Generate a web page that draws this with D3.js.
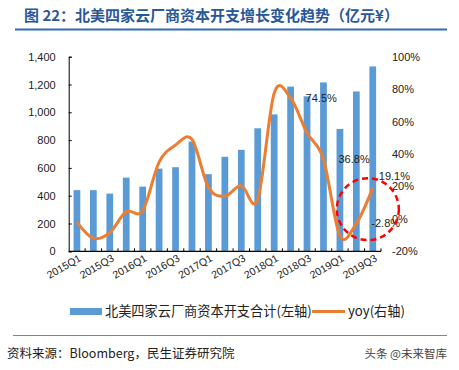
<!DOCTYPE html>
<html>
<head>
<meta charset="utf-8">
<script src="https://cdn.jsdelivr.net/npm/d3@7/dist/d3.min.js"></script>
<style>
body { margin: 0; background: #fff; }
text { font-family: "Liberation Sans", Arial, sans-serif; }
.cjk { font-family: "Noto Sans CJK SC", sans-serif; }
</style>
</head>
<body>
<script>
//data
var quarters = ["2015Q1", "2015Q2", "2015Q3", "2015Q4", "2016Q1", "2016Q2", "2016Q3", "2016Q4",
    "2017Q1", "2017Q2", "2017Q3", "2017Q4", "2018Q1", "2018Q2", "2018Q3", "2018Q4",
    "2019Q1", "2019Q2", "2019Q3"];
var capex = [440, 440, 415, 530, 465, 595, 605, 790, 555, 680, 730, 885, 985, 1185, 1115, 1215, 880, 1150, 1330];
var yoy = [-2, -12, -8.5, 4.5, 5, 35, 45.5, 49, 19.5, 14, 20.5, 12, 77.5, 74.5, 53, 36.8, -10.5, -2.8, 19.1];
var leftTicks = [0, 200, 400, 600, 800, 1000, 1200, 1400];
var rightTicks = [-20, 0, 20, 40, 60, 80, 100];
var labelQuarters = ["2018Q2", "2018Q4", "2019Q2", "2019Q3"];
var seriesNames = ["北美四家云厂商资本开支合计(左轴)", "yoy(右轴)"];
var title = "图 22：北美四家云厂商资本开支增长变化趋势（亿元¥）";
var source = "资料来源：Bloomberg，民生证券研究院";
var mark = "头条 @未来智库";

var width = 459, height = 370;
var svg = d3.select("body").append("svg").attr("width", width).attr("height", height);

//title and rules
svg.append("text").attr("class", "cjk").attr("x", 24).attr("y", 21)
    .attr("font-size", 15).attr("font-weight", "bold").attr("fill", "#2A5796")
    .text(title);
svg.append("line").attr("x1", 15).attr("x2", 447).attr("y1", 29.5).attr("y2", 29.5)
    .attr("stroke", "#2E6DB4").attr("stroke-width", 2);
svg.append("line").attr("x1", 13).attr("x2", 447).attr("y1", 335.5).attr("y2", 335.5)
    .attr("stroke", "#5B8CC8").attr("stroke-width", 1);
svg.append("text").attr("class", "cjk").attr("x", 7).attr("y", 358)
    .attr("font-size", 12.5).attr("fill", "#222").text(source);
svg.append("text").attr("class", "cjk").attr("x", 447).attr("y", 358)
    .attr("text-anchor", "end").attr("font-size", 11.5).attr("fill", "#444").text(mark);

//scales
var plotL = 68.7, plotR = 381, plotT = 56.7, plotB = 251.3;
var x = d3.scaleBand().domain(quarters).range([plotL, plotR]).paddingInner(0.59).paddingOuter(0.295);
var y = d3.scaleLinear().domain([0, 1400]).range([plotB, plotT]);
var yR = d3.scaleLinear().domain([-20, 100]).range([plotB, plotT]);
var step = x.step();
function cx(q){ return x(q) + x.bandwidth() / 2; }

//bars
svg.selectAll("rect.bar").data(capex).enter().append("rect")
    .attr("class", "bar")
    .attr("x", function(d, i){ return x(quarters[i]); })
    .attr("width", x.bandwidth())
    .attr("y", function(d){ return y(d); })
    .attr("height", function(d){ return y(0) - y(d); })
    .attr("fill", "#5B9BD5");

//left axis
var yA = d3.axisLeft(y).tickValues(leftTicks).tickSize(-3).tickPadding(13)
    .tickFormat(d3.format(","));
var gy = svg.append("g").attr("transform", "translate(" + plotL + ",0)").call(yA);
gy.select(".domain").attr("stroke", "#000");
gy.selectAll(".tick line").attr("stroke", "#000");
gy.selectAll("text").attr("font-size", 11).attr("fill", "#222")
    .attr("font-family", "Liberation Sans, Arial, sans-serif");

//right axis, labels only
var yB = d3.axisRight(yR).tickValues(rightTicks).tickSize(0).tickPadding(11)
    .tickFormat(function(d){ return d + "%"; });
var gr = svg.append("g").attr("transform", "translate(" + plotR + ",0)").call(yB);
gr.select(".domain").remove();
gr.selectAll("text").attr("font-size", 11).attr("fill", "#222")
    .attr("font-family", "Liberation Sans, Arial, sans-serif");

//x axis line, ticks between categories
svg.append("line").attr("x1", plotL).attr("x2", plotR).attr("y1", plotB).attr("y2", plotB)
    .attr("stroke", "#000").attr("stroke-width", 1.2);
svg.selectAll("line.xt").data(quarters).enter().append("line")
    .attr("class", "xt")
    .attr("x1", function(d){ return cx(d) + step / 2; })
    .attr("x2", function(d){ return cx(d) + step / 2; })
    .attr("y1", plotB).attr("y2", plotB - 3)
    .attr("stroke", "#000");
svg.selectAll("text.xl").data(quarters.filter(function(d, i){ return i % 2 == 0; }))
    .enter().append("text")
    .attr("class", "xl")
    .attr("text-anchor", "end")
    .attr("font-size", 10.5).attr("fill", "#222")
    .attr("transform", function(d){
        return "translate(" + (cx(d) + 5) + "," + (plotB + 9) + ") rotate(-30)";
    })
    .text(function(d){ return d; });

//yoy line
var line = d3.line()
    .x(function(d, i){ return cx(quarters[i]); })
    .y(function(d){ return yR(d); })
    .curve(d3.curveCardinal.tension(0));
svg.append("path").datum(yoy).attr("d", line)
    .attr("fill", "none").attr("stroke", "#ED7D31").attr("stroke-width", 3);

//data labels
svg.selectAll("text.dl").data(labelQuarters).enter().append("text")
    .attr("class", "dl")
    .attr("x", function(d){ return cx(d) + (d == "2019Q3" ? 6 : 15); })
    .attr("y", function(d){ return yR(yoy[quarters.indexOf(d)]) + (d == "2019Q3" ? -8 : 4); })
    .attr("font-size", 11).attr("fill", "#222")
    .text(function(d){ return yoy[quarters.indexOf(d)] + "%"; });

//dashed circle
svg.append("circle")
    .attr("cx", cx("2019Q2") + step * 0.7)
    .attr("cy", yR(6))
    .attr("r", 31)
    .attr("fill", "none").attr("stroke", "#FF0000").attr("stroke-width", 2.5)
    .attr("stroke-dasharray", "6,4");

//legend
svg.append("rect").attr("x", 70).attr("y", 308).attr("width", 32).attr("height", 7).attr("fill", "#5B9BD5");
svg.append("text").attr("class", "cjk").attr("x", 105).attr("y", 316)
    .attr("font-size", 13.2).attr("fill", "#222").text(seriesNames[0]);
svg.append("line").attr("x1", 312).attr("x2", 345).attr("y1", 311.5).attr("y2", 311.5)
    .attr("stroke", "#ED7D31").attr("stroke-width", 3);
svg.append("text").attr("class", "cjk").attr("x", 348).attr("y", 316)
    .attr("font-size", 13.2).attr("fill", "#222").text(seriesNames[1]);
</script>
</body>
</html>
